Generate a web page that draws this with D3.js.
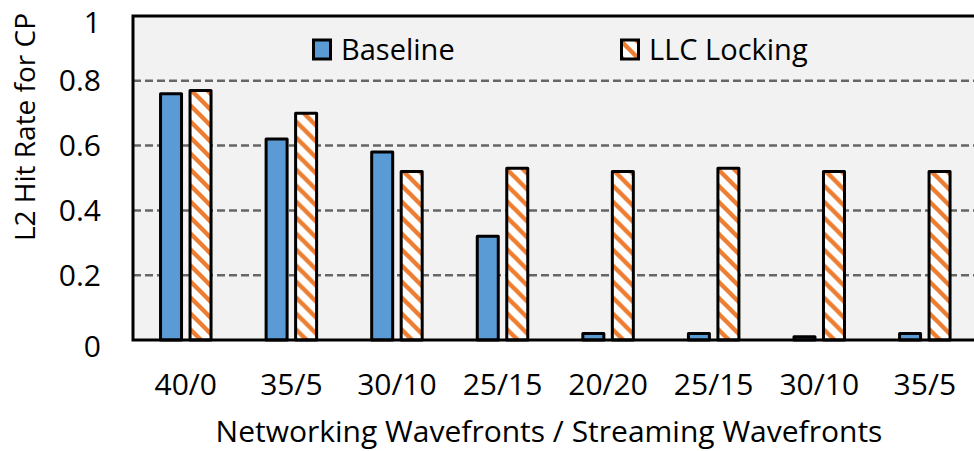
<!DOCTYPE html>
<html>
<head>
  <meta charset="utf-8" />
  <style>
    body { margin: 0; background: #fff; }
    text { font-family: "Open Sans", sans-serif; fill: #000; }
  </style>
</head>
<body>
  <svg width="974" height="451"></svg>

  <script src="https://d3js.org/d3.v7.min.js"></script>
  <script>
    // data
    var categories = ["40/0", "35/5", "30/10", "25/15", "20/20", "25/15", "30/10", "35/5"];
    var seriesNames = ["Baseline", "LLC Locking"];
    var baseline = [0.76, 0.62, 0.58, 0.32, 0.02, 0.02, 0.01, 0.02];
    var llcLocking = [0.77, 0.70, 0.52, 0.53, 0.52, 0.53, 0.52, 0.52];
    var yTicks = [0, 0.2, 0.4, 0.6, 0.8, 1];

    var svg = d3.select("svg");

    var plot = { left: 133, top: 16, right: 977.6, bottom: 340 };

    var defs = svg.append("defs");
    var pat = defs
      .append("pattern")
      .attr("id", "stripes")
      .attr("patternUnits", "userSpaceOnUse")
      .attr("width", 16)
      .attr("height", 16);
    pat.append("rect").attr("width", 16).attr("height", 16).attr("fill", "#fff");
    pat
      .append("path")
      .attr("d", "M-4,-4L20,20M-4,12L4,20M12,-4L20,4")
      .attr("stroke", "#ed7d31")
      .attr("stroke-width", 4.4);

    var x0 = d3
      .scaleBand()
      .domain(d3.range(categories.length))
      .range([plot.left, plot.right])
      .padding(0);

    var bw = x0.bandwidth();
    var x1 = d3
      .scaleBand()
      .domain(seriesNames)
      .range([bw / 2 - 29.5, bw / 2 + 29.5]);

    var y = d3.scaleLinear().domain([0, 1]).range([plot.bottom, plot.top]);

    // plot background
    svg
      .append("rect")
      .attr("x", plot.left)
      .attr("y", plot.top)
      .attr("width", plot.right - plot.left)
      .attr("height", plot.bottom - plot.top)
      .attr("fill", "#f2f2f2");

    // dashed gridlines
    svg
      .append("g")
      .selectAll("line")
      .data(yTicks.filter(function (d) { return d > 0 && d < 1; }))
      .enter()
      .append("line")
      .attr("x1", plot.left)
      .attr("x2", plot.right)
      .attr("y1", function (d) { return y(d); })
      .attr("y2", function (d) { return y(d); })
      .attr("stroke", "#666")
      .attr("stroke-width", 2.5)
      .attr("stroke-dasharray", "8,4");

    // bars
    var barW = 21;
    var groups = svg
      .append("g")
      .selectAll("g")
      .data(categories)
      .enter()
      .append("g")
      .attr("transform", function (d, i) { return "translate(" + x0(i) + ",0)"; });

    groups
      .selectAll("rect")
      .data(function (d, i) {
        return [
          { s: "Baseline", v: baseline[i] },
          { s: "LLC Locking", v: llcLocking[i] }
        ];
      })
      .enter()
      .append("rect")
      .attr("x", function (d) { return x1(d.s) + (x1.bandwidth() - barW) / 2; })
      .attr("width", barW)
      .attr("y", function (d) { return y(d.v); })
      .attr("height", function (d) { return y(0) - y(d.v); })
      .attr("fill", function (d) { return d.s === "Baseline" ? "#5b9bd5" : "url(#stripes)"; })
      .attr("stroke", "#000")
      .attr("stroke-width", 3)
      .attr("stroke-linejoin", "round");

    // plot border
    svg
      .append("rect")
      .attr("x", plot.left)
      .attr("y", plot.top)
      .attr("width", plot.right - plot.left)
      .attr("height", plot.bottom - plot.top)
      .attr("fill", "none")
      .attr("stroke", "#000")
      .attr("stroke-width", 3);

    // y axis labels (end labels sit a little inside, like the original)
    var yAxis = d3.axisLeft(y).tickValues(yTicks).tickFormat(d3.format("")).tickSize(0).tickPadding(0);
    var gy = svg.append("g").attr("transform", "translate(101,0)").call(yAxis);
    gy.select(".domain").remove();
    gy.selectAll("text")
      .style("font-family", "'Open Sans', sans-serif")
      .style("font-size", "30px")
      .attr("fill", "#000")
      .attr("dy", function (d) { return d === 1 || d === 0 ? "0.55em" : "0.33em"; });

    // x axis labels
    var xAxis = d3.axisBottom(x0).tickFormat(function (i) { return categories[i]; }).tickSize(0).tickPadding(0);
    var gx = svg.append("g").attr("transform", "translate(0,395)").call(xAxis);
    gx.select(".domain").remove();
    gx.selectAll("text")
      .style("font-family", "'Open Sans', sans-serif")
      .style("font-size", "30px")
      .attr("fill", "#000")
      .attr("dy", "0");

    // axis titles
    svg
      .append("text")
      .attr("x", 549)
      .attr("y", 442)
      .attr("text-anchor", "middle")
      .style("font-size", "30px")
      .text("Networking Wavefronts / Streaming Wavefronts");

    svg
      .append("text")
      .attr("transform", "translate(35,127) rotate(-90)")
      .attr("text-anchor", "middle")
      .style("font-size", "28px")
      .text("L2 Hit Rate for CP");

    // legend
    var legendX = [312, 620];
    var legend = svg
      .append("g")
      .selectAll("g")
      .data(seriesNames)
      .enter()
      .append("g")
      .attr("transform", function (d, i) { return "translate(" + legendX[i] + ",40)"; });

    legend
      .append("rect")
      .attr("x", 1.5)
      .attr("y", 0)
      .attr("width", 17)
      .attr("height", 19)
      .attr("fill", function (d) { return d === "Baseline" ? "#5b9bd5" : "url(#stripes)"; })
      .attr("stroke", "#000")
      .attr("stroke-width", 3);

    legend
      .append("text")
      .attr("x", 29)
      .attr("y", 20)
      .style("font-size", "29px")
      .text(function (d) { return d; });
  </script>
</body>
</html>
